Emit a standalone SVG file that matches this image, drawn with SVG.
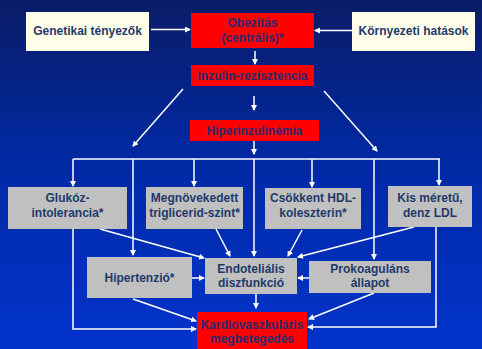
<svg xmlns="http://www.w3.org/2000/svg" width="482" height="349" viewBox="0 0 482 349">
<defs>
<linearGradient id="bg" x1="0" y1="0" x2="0" y2="1">
<stop offset="0" stop-color="#0a1c66"/>
<stop offset="0.45" stop-color="#0029a3"/>
<stop offset="1" stop-color="#0333cc"/>
</linearGradient>
<marker id="ah" markerWidth="6" markerHeight="6" refX="5" refY="3" orient="auto" markerUnits="userSpaceOnUse">
<path d="M0,0 L6,3 L0,6 Z" fill="#ffffff"/>
</marker>
<style>
.cream{fill:#ffffea}
.red{fill:#ff0000}
.grey{fill:#c0c0c0}
.t{font-family:"Liberation Sans",Arial,sans-serif;font-weight:bold;font-size:12px;text-anchor:middle;fill:#1e3a6a}
.tr{font-family:"Liberation Sans",Arial,sans-serif;font-weight:bold;font-size:12px;text-anchor:middle;fill:#2a2a72}
.c{stroke:#ffffff;stroke-width:1.5;fill:none}
.a{stroke:#ffffff;stroke-width:1.5;fill:none;marker-end:url(#ah)}
</style>
</defs>
<rect x="0" y="0" width="482" height="349" fill="url(#bg)"/>

<g id="connectors">
<line class="a" x1="151" y1="29.5" x2="190" y2="29.5"/>
<line class="a" x1="352" y1="30.5" x2="315" y2="30.5"/>
<line class="a" x1="255" y1="51" x2="255" y2="64"/>
<line class="a" x1="254" y1="96" x2="254" y2="110"/>
<line class="a" x1="183" y1="89" x2="133" y2="146"/>
<line class="a" x1="324" y1="91" x2="377" y2="151"/>
<line class="a" x1="254" y1="141" x2="254" y2="154"/>
<line class="c" x1="73" y1="159" x2="440" y2="159"/>
<line class="a" x1="73" y1="159" x2="73" y2="186"/>
<line class="a" x1="194" y1="159" x2="194" y2="186"/>
<line class="a" x1="312" y1="159" x2="312" y2="187"/>
<line class="a" x1="439" y1="159" x2="439" y2="185"/>
<line class="a" x1="133" y1="159" x2="133" y2="255"/>
<line class="a" x1="254" y1="159" x2="254" y2="256"/>
<line class="a" x1="374" y1="159" x2="374" y2="259"/>
<polyline class="a" points="73,229 73,329 196,329"/>
<polyline class="a" points="436,227 436,327 308,327"/>
<line class="a" x1="100" y1="229" x2="204" y2="258"/>
<line class="a" x1="216" y1="229" x2="230" y2="256"/>
<line class="a" x1="302" y1="230" x2="288" y2="256"/>
<line class="a" x1="414" y1="227" x2="298" y2="257"/>
<line class="a" x1="192" y1="278" x2="204" y2="278"/>
<line class="a" x1="309" y1="278" x2="298" y2="278"/>
<line class="a" x1="256" y1="294" x2="256" y2="308"/>
<line class="a" x1="133" y1="299" x2="196" y2="321"/>
<line class="a" x1="374" y1="293" x2="309" y2="319"/>
</g>

<g id="genetikai">
<rect class="cream" x="26" y="12" width="123" height="39"/>
<text class="t" x="87.5" y="35">Genetikai tényezők</text>
</g>
<g id="obezitas">
<rect class="red" x="191" y="13" width="123" height="35"/>
<text class="tr" x="252.5" y="27">Obezitás</text>
<text class="tr" x="252.5" y="42">(centrális)*</text>
</g>
<g id="kornyezeti">
<rect class="cream" x="352" y="12" width="123" height="39"/>
<text class="t" x="413.5" y="35">Környezeti hatások</text>
</g>
<g id="inzulin">
<rect class="red" x="191" y="65" width="123" height="21"/>
<text class="tr" x="252.5" y="80">Inzulin-rezisztencia</text>
</g>
<g id="hiperinzulinemia">
<rect class="red" x="190" y="120" width="129" height="21"/>
<text class="tr" x="254.5" y="135">Hiperinzulinémia</text>
</g>
<g id="glukoz">
<rect class="grey" x="8" y="187" width="119" height="42"/>
<text class="t" x="67.5" y="202">Glukóz-</text>
<text class="t" x="67.5" y="217">intolerancia*</text>
</g>
<g id="trigliceride">
<rect class="grey" x="146" y="187" width="97" height="42"/>
<text class="t" x="194.5" y="202">Megnövekedett</text>
<text class="t" x="194.5" y="217">triglicerid-szint*</text>
</g>
<g id="hdl">
<rect class="grey" x="265" y="188" width="96" height="41"/>
<text class="t" x="313" y="202">Csökkent HDL-</text>
<text class="t" x="313" y="217">koleszterin*</text>
</g>
<g id="ldl">
<rect class="grey" x="388" y="186" width="84" height="41"/>
<text class="t" x="430" y="202">Kis méretű,</text>
<text class="t" x="430" y="217">denz LDL</text>
</g>
<g id="hipertenzio">
<rect class="grey" x="87" y="257" width="105" height="41"/>
<text class="t" x="139.5" y="282">Hipertenzió*</text>
</g>
<g id="endotelialis">
<rect class="grey" x="205" y="258" width="92" height="36"/>
<text class="t" x="251" y="273">Endoteliális</text>
<text class="t" x="251" y="287">diszfunkció</text>
</g>
<g id="prokoagulans">
<rect class="grey" x="309" y="261" width="122" height="32"/>
<text class="t" x="370" y="273">Prokoaguláns</text>
<text class="t" x="370" y="287">állapot</text>
</g>
<g id="kardio">
<rect class="red" x="197" y="312" width="110" height="40"/>
<text class="tr" x="252" y="329">Kardiovaszkuláris</text>
<text class="tr" x="252" y="343">megbetegedés</text>
</g>
</svg>
